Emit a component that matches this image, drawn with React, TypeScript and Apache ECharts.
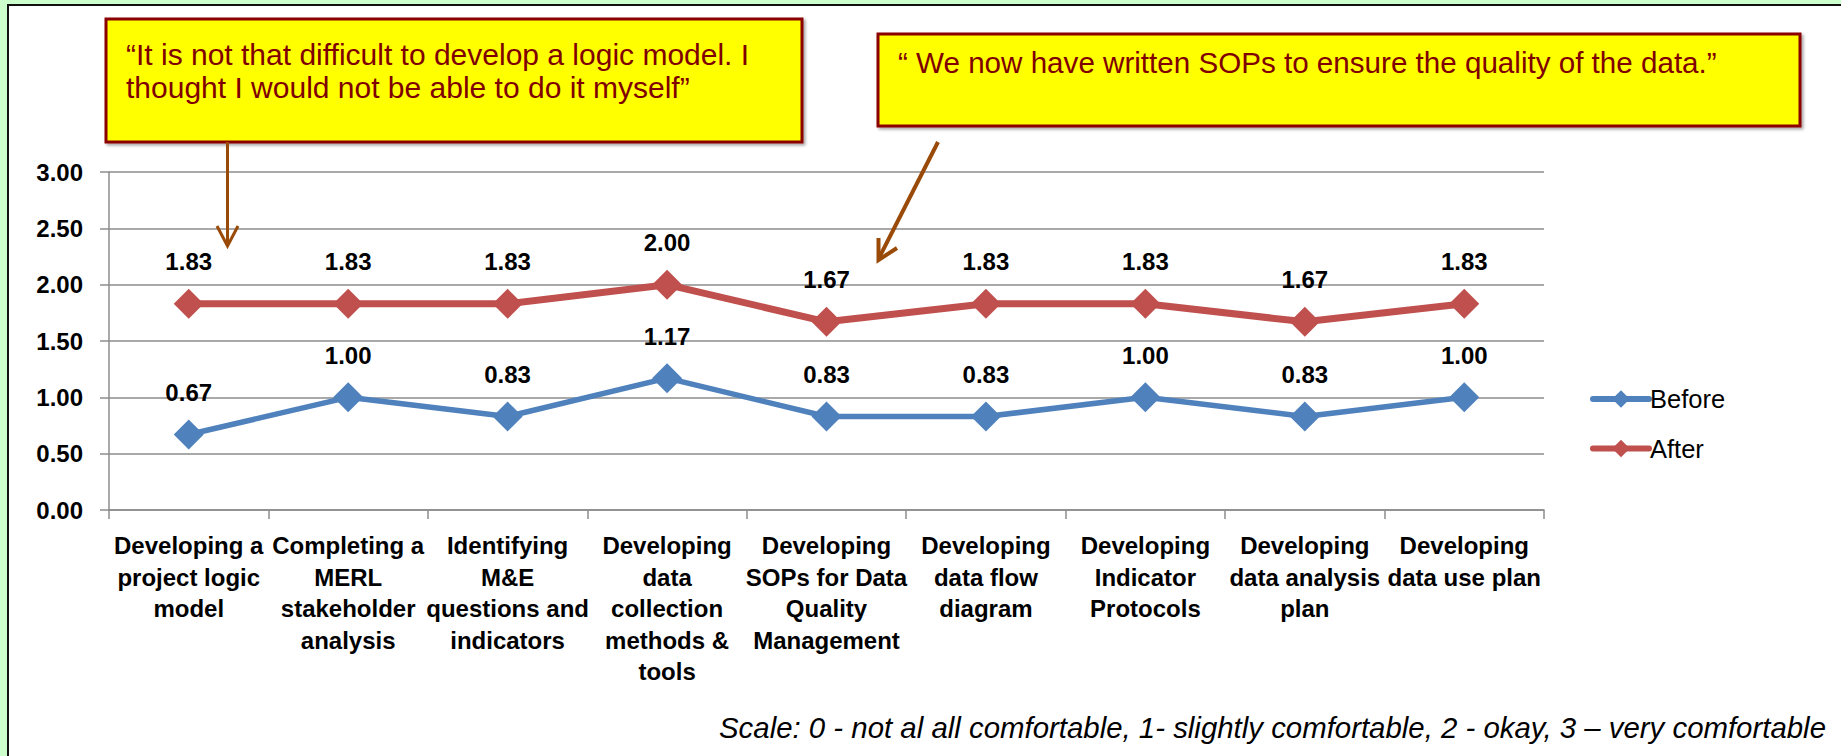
import React, { useEffect, useRef } from "react";
import * as echarts from "echarts";

const categories = [
  "Developing a\nproject logic\nmodel",
  "Completing a\nMERL\nstakeholder\nanalysis",
  "Identifying\nM&E\nquestions and\nindicators",
  "Developing\ndata\ncollection\nmethods &\ntools",
  "Developing\nSOPs for Data\nQuality\nManagement",
  "Developing\ndata flow\ndiagram",
  "Developing\nIndicator\nProtocols",
  "Developing\ndata analysis\nplan",
  "Developing\ndata use plan",
];
const beforeValues = [0.67, 1.0, 0.83, 1.17, 0.83, 0.83, 1.0, 0.83, 1.0];
const afterValues = [1.83, 1.83, 1.83, 2.0, 1.67, 1.83, 1.83, 1.67, 1.83];
const seriesNames = ["Before", "After"];
const quote1 = ["“It is not that difficult to develop a logic model. I", "thought I would not be able to do it myself”"];
const quote2 = "“ We now have written SOPs to ensure the quality of the data.”";
const scaleNote = "Scale: 0 - not al all comfortable, 1- slightly comfortable, 2 - okay, 3 – very comfortable";

const FONT = "'Liberation Sans', Arial, sans-serif";
const BLUE = "#4F81BD";
const RED = "#C0504D";
const GRID = "#8C8C8C";
const BROWN = "#9A4A08";
const QUOTE = "#7F0000";

export default function App() {
  const ref = useRef<HTMLDivElement>(null);
  useEffect(() => {
    if (!ref.current) return;
    const chart = echarts.init(ref.current, null, { renderer: "svg" });
    const labelCfg = {
      show: true,
      position: "top",
      distance: 15,
      color: "#000",
      fontFamily: FONT,
      fontWeight: "bold",
      fontSize: 24,
      formatter: (p: any) => Number(p.value).toFixed(2),
    };
    chart.setOption({
      animation: false,
      grid: { left: 109, right: 297, top: 172, bottom: 246, containLabel: false },
      legend: {
        orient: "vertical",
        left: 1585,
        top: 381,
        itemWidth: 56,
        itemHeight: 22,
        itemGap: 23.5,
        data: seriesNames.map((n) => ({ name: n, lineStyle: { width: 6, cap: "round" } })),
        lineStyle: { width: 6, cap: "round" },
        textStyle: { fontFamily: FONT, fontSize: 25.5, color: "#000", padding: [0, 0, 0, -4] },
      },
      xAxis: {
        type: "category",
        data: categories,
        boundaryGap: true,
        axisLine: { show: true, lineStyle: { color: GRID, width: 1.5 } },
        axisTick: { show: true, length: 9, lineStyle: { color: GRID, width: 1.5 } },
        axisLabel: {
          interval: 0,
          margin: 20,
          color: "#000",
          fontFamily: FONT,
          fontWeight: "bold",
          fontSize: 24,
          lineHeight: 31.5,
          align: "center",
        },
      },
      yAxis: {
        type: "value",
        min: 0,
        max: 3,
        interval: 0.5,
        axisLine: { show: true, lineStyle: { color: GRID, width: 1.5 } },
        axisTick: { show: true, length: 9, lineStyle: { color: GRID, width: 1.5 } },
        splitLine: { show: true, lineStyle: { color: GRID, width: 1.5 } },
        axisLabel: {
          margin: 26,
          color: "#000",
          fontFamily: FONT,
          fontWeight: "bold",
          fontSize: 24,
          formatter: (v: number) => v.toFixed(2),
        },
      },
      series: [
        {
          name: seriesNames[0],
          type: "line",
          data: beforeValues,
          symbol: "diamond",
          symbolSize: 30,
          itemStyle: { color: BLUE },
          lineStyle: { color: BLUE, width: 5.5 },
          label: labelCfg,
          z: 3,
        },
        {
          name: seriesNames[1],
          type: "line",
          data: afterValues,
          symbol: "diamond",
          symbolSize: 30,
          itemStyle: { color: RED },
          lineStyle: { color: RED, width: 7 },
          label: labelCfg,
          z: 3,
        },
      ],
      graphic: [
        {
          type: "rect",
          z: 100,
          shape: { x: 106, y: 19, width: 696, height: 123 },
          style: { fill: "#FFFF00", stroke: "#8B0000", lineWidth: 3, shadowBlur: 3, shadowColor: "rgba(0,0,0,0.35)", shadowOffsetX: 2, shadowOffsetY: 2 },
        },
        {
          type: "text",
          z: 101,
          x: 126,
          y: 54,
          style: { text: quote1[0], fill: QUOTE, font: `30px ${FONT}`, verticalAlign: "middle", align: "left" },
        },
        {
          type: "text",
          z: 101,
          x: 126,
          y: 87,
          style: { text: quote1[1], fill: QUOTE, font: `30px ${FONT}`, verticalAlign: "middle", align: "left" },
        },
        {
          type: "rect",
          z: 100,
          shape: { x: 878, y: 34, width: 922, height: 92 },
          style: { fill: "#FFFF00", stroke: "#8B0000", lineWidth: 3, shadowBlur: 3, shadowColor: "rgba(0,0,0,0.35)", shadowOffsetX: 2, shadowOffsetY: 2 },
        },
        {
          type: "text",
          z: 101,
          x: 898,
          y: 62,
          style: { text: quote2, fill: QUOTE, font: `29.6px ${FONT}`, verticalAlign: "middle", align: "left" },
        },
        {
          type: "line",
          z: 100,
          shape: { x1: 227.5, y1: 142, x2: 227.5, y2: 245 },
          style: { stroke: BROWN, lineWidth: 3 },
        },
        {
          type: "polyline",
          z: 100,
          shape: { points: [[217, 226], [227.5, 246], [238, 226]] },
          style: { stroke: BROWN, lineWidth: 3, fill: null },
        },
        {
          type: "line",
          z: 100,
          shape: { x1: 938, y1: 142, x2: 879, y2: 258 },
          style: { stroke: BROWN, lineWidth: 4 },
        },
        {
          type: "polyline",
          z: 100,
          shape: { points: [[878.5, 238], [878.5, 260], [897, 248]] },
          style: { stroke: BROWN, lineWidth: 4, fill: null, lineJoin: "miter" },
        },
        {
          type: "text",
          z: 100,
          x: 1826,
          y: 727,
          style: { text: scaleNote, fill: "#000", font: `italic 29.4px ${FONT}`, verticalAlign: "middle", align: "right" },
        },
      ],
    });
    return () => chart.dispose();
  }, []);

  return (
    <div style={{ position: "absolute", left: 0, top: 0, width: 1841, height: 756, background: "#CCFFCC", overflow: "hidden" }}>
      <div
        style={{
          position: "absolute",
          left: 7,
          top: 4,
          right: 0,
          bottom: 0,
          background: "#FFFFFF",
          borderLeft: "2.5px solid #111",
          borderTop: "2.5px solid #111",
        }}
      />
      <div ref={ref} style={{ position: "absolute", left: 0, top: 0, width: 1841, height: 756 }} />
    </div>
  );
}
